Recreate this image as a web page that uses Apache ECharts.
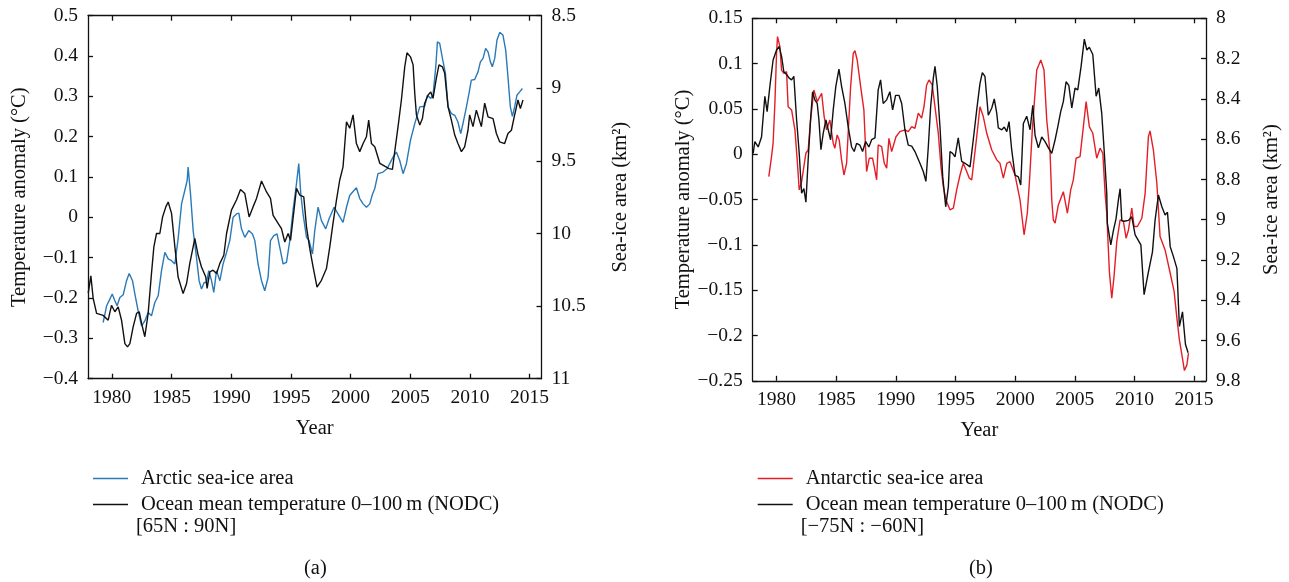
<!DOCTYPE html>
<html>
<head>
<meta charset="utf-8">
<script src="https://cdn.jsdelivr.net/npm/echarts@6/dist/echarts.min.js"></script>
<style>
  html, body { margin: 0; padding: 0; background: #fff; }
  #chart { width: 1289px; height: 582px; }
</style>
</head>
<body>
<div id="chart"></div>
<script>
// tick labels
const yearTicks = [1980, 1985, 1990, 1995, 2000, 2005, 2010, 2015];

// (a) Arctic: ocean temperature anomaly [65N:90N] (left axis, °C)
const arcticTemp = [
  [1978.02,-0.188],[1978.24,-0.145],[1978.43,-0.200],[1978.72,-0.238],[1979.27,-0.243],[1979.69,-0.255],
  [1979.97,-0.218],[1980.25,-0.234],[1980.53,-0.222],[1980.81,-0.255],[1981.09,-0.313],[1981.31,-0.321],
  [1981.51,-0.313],[1981.78,-0.272],[1982.07,-0.238],[1982.29,-0.234],[1982.49,-0.263],[1982.76,-0.296],
  [1983.04,-0.238],[1983.32,-0.139],[1983.52,-0.073],[1983.74,-0.040],[1984.02,-0.040],[1984.25,0.001],
  [1984.52,0.026],[1984.72,0.038],[1985.00,0.010],[1985.28,-0.073],[1985.55,-0.148],[1985.97,-0.189],
  [1986.26,-0.164],[1986.53,-0.114],[1986.81,-0.073],[1986.95,-0.052],[1987.23,-0.094],[1987.51,-0.123],
  [1987.87,-0.148],[1987.98,-0.176],[1988.21,-0.135],[1988.48,-0.131],[1988.77,-0.139],[1989.05,-0.114],
  [1989.38,-0.094],[1989.61,-0.040],[1990.02,0.018],[1990.44,0.043],[1990.78,0.069],[1991.14,0.059],
  [1991.50,0.001],[1991.83,0.026],[1992.12,0.047],[1992.54,0.090],[1992.96,0.063],[1993.29,0.047],
  [1993.51,0.005],[1993.93,-0.015],[1994.21,-0.028],[1994.49,-0.061],[1994.77,-0.040],[1994.97,-0.057],
  [1995.18,-0.003],[1995.47,0.072],[1995.75,0.055],[1996.08,0.051],[1996.31,-0.024],[1996.58,-0.077],
  [1996.86,-0.123],[1997.19,-0.173],[1997.56,-0.156],[1997.98,-0.127],[1998.26,-0.073],[1998.53,-0.015],
  [1998.82,0.043],[1999.09,0.092],[1999.37,0.125],[1999.66,0.237],[1999.93,0.221],[2000.21,0.254],
  [2000.49,0.183],[2000.77,0.163],[2001.05,0.183],[2001.33,0.200],[2001.52,0.241],[2001.75,0.183],
  [2002.03,0.175],[2002.45,0.134],[2002.86,0.127],[2003.22,0.121],[2003.51,0.119],[2003.70,0.163],
  [2003.98,0.225],[2004.26,0.291],[2004.54,0.373],[2004.73,0.408],[2005.02,0.398],[2005.24,0.378],
  [2005.38,0.307],[2005.52,0.254],[2005.80,0.229],[2006.02,0.245],[2006.21,0.283],[2006.49,0.303],
  [2006.72,0.311],[2006.91,0.295],[2007.19,0.345],[2007.41,0.378],[2007.70,0.373],[2007.89,0.357],
  [2008.17,0.274],[2008.45,0.241],[2008.73,0.204],[2009.00,0.183],[2009.29,0.163],[2009.56,0.175],
  [2009.84,0.216],[2009.98,0.254],[2010.26,0.225],[2010.54,0.266],[2010.96,0.225],[2011.24,0.283],
  [2011.52,0.249],[2011.94,0.245],[2012.22,0.208],[2012.50,0.187],[2012.91,0.183],[2013.19,0.208],
  [2013.48,0.216],[2013.75,0.254],[2014.03,0.291],[2014.23,0.270],[2014.45,0.291]
];

// (a) Arctic sea-ice area (right axis, inverted, km²)
const arcticIce = [
  [1979.27,10.613],[1979.56,10.498],[1979.83,10.452],[1980.03,10.417],[1980.25,10.463],[1980.44,10.498],
  [1980.67,10.441],[1980.95,10.422],[1981.23,10.325],[1981.45,10.275],[1981.73,10.325],[1981.93,10.417],
  [1982.20,10.532],[1982.49,10.636],[1982.76,10.602],[1983.04,10.544],[1983.32,10.567],[1983.60,10.475],
  [1983.88,10.429],[1984.16,10.256],[1984.44,10.130],[1984.72,10.175],[1985.00,10.187],[1985.28,10.210],
  [1985.55,10.037],[1985.84,9.796],[1986.11,9.704],[1986.31,9.635],[1986.39,9.543],[1986.59,9.727],
  [1986.81,9.980],[1987.09,10.164],[1987.31,10.325],[1987.51,10.383],[1987.73,10.337],[1987.93,10.337],
  [1988.12,10.256],[1988.35,10.325],[1988.54,10.406],[1988.77,10.256],[1989.05,10.325],[1989.32,10.210],
  [1989.61,10.130],[1989.88,10.049],[1990.16,9.888],[1990.44,9.865],[1990.64,9.860],[1990.86,9.968],
  [1991.14,10.026],[1991.47,9.980],[1991.78,10.003],[1991.98,10.049],[1992.25,10.210],[1992.54,10.325],
  [1992.81,10.394],[1993.09,10.302],[1993.29,10.049],[1993.57,10.015],[1993.84,10.003],[1994.07,10.095],
  [1994.35,10.210],[1994.63,10.199],[1994.91,10.049],[1995.18,9.842],[1995.47,9.657],[1995.66,9.519],
  [1995.83,9.727],[1996.02,9.865],[1996.31,10.026],[1996.53,10.049],[1996.81,10.141],[1997.00,9.980],
  [1997.28,9.819],[1997.56,9.911],[1997.92,9.968],[1998.20,9.899],[1998.62,9.819],[1998.95,9.865],
  [1999.37,9.923],[1999.66,9.819],[1999.93,9.738],[2000.21,9.711],[2000.49,9.685],[2000.77,9.759],
  [2001.05,9.796],[2001.33,9.819],[2001.61,9.796],[2001.83,9.731],[2002.03,9.690],[2002.30,9.588],
  [2002.72,9.577],[2003.06,9.554],[2003.28,9.519],[2003.56,9.474],[2003.84,9.439],[2004.12,9.497],
  [2004.40,9.588],[2004.68,9.519],[2005.02,9.358],[2005.38,9.243],[2005.80,9.128],[2006.21,9.124],
  [2006.44,9.048],[2006.72,9.070],[2006.91,9.048],[2007.14,8.852],[2007.28,8.680],[2007.47,8.691],
  [2007.70,8.794],[2007.95,8.898],[2008.17,9.128],[2008.45,9.174],[2008.73,9.186],[2009.00,9.232],
  [2009.23,9.312],[2009.42,9.243],[2009.71,9.128],[2009.92,9.036],[2010.12,8.944],[2010.40,8.939],
  [2010.68,8.887],[2010.88,8.818],[2011.10,8.794],[2011.32,8.725],[2011.52,8.749],[2011.72,8.818],
  [2011.88,8.852],[2012.08,8.794],[2012.27,8.668],[2012.50,8.615],[2012.77,8.633],[2013.00,8.737],
  [2013.19,8.921],[2013.39,9.128],[2013.56,9.193],[2013.75,9.128],[2013.94,9.048],[2014.17,9.025],
  [2014.40,9.001]
];

// (b) Antarctic: ocean temperature anomaly [-75N:-60N] (left axis, °C)
const antarcticTemp = [
  [1978.04,0.001],[1978.18,0.014],[1978.46,0.008],[1978.74,0.019],[1979.02,0.064],[1979.21,0.047],
  [1979.44,0.075],[1979.71,0.104],[1980.00,0.115],[1980.22,0.119],[1980.42,0.108],[1980.61,0.091],
  [1980.84,0.088],[1981.06,0.084],[1981.26,0.082],[1981.45,0.086],[1981.68,0.038],[1981.90,0.001],
  [1982.10,-0.043],[1982.29,-0.038],[1982.46,-0.053],[1982.65,-0.006],[1982.85,0.038],[1983.02,0.069],
  [1983.21,0.060],[1983.41,0.056],[1983.55,0.038],[1983.72,0.005],[1983.91,0.023],[1984.14,0.038],
  [1984.33,0.027],[1984.53,0.016],[1984.75,0.049],[1984.97,0.075],[1985.23,0.094],[1985.45,0.075],
  [1985.73,0.056],[1986.01,0.030],[1986.29,0.008],[1986.51,0.003],[1986.71,0.012],[1986.99,0.010],
  [1987.21,0.003],[1987.47,0.014],[1987.74,0.008],[1987.97,0.016],[1988.25,0.018],[1988.52,0.071],
  [1988.72,0.082],[1988.94,0.056],[1989.23,0.060],[1989.50,0.069],[1989.73,0.049],[1989.98,0.065],
  [1990.26,0.065],[1990.49,0.056],[1990.76,0.027],[1991.04,0.010],[1991.33,0.009],[1991.60,0.003],
  [1992.02,-0.010],[1992.30,-0.019],[1992.52,-0.030],[1992.72,0.008],[1992.92,0.053],[1993.14,0.084],
  [1993.28,0.097],[1993.47,0.075],[1993.70,0.030],[1993.93,-0.025],[1994.18,-0.058],[1994.40,-0.036],
  [1994.54,0.003],[1994.76,0.001],[1994.96,-0.003],[1995.23,0.018],[1995.52,-0.008],[1995.80,-0.010],
  [1996.22,-0.014],[1996.49,0.016],[1996.78,0.049],[1997.05,0.078],[1997.25,0.090],[1997.47,0.086],
  [1997.75,0.043],[1998.04,0.051],[1998.25,0.061],[1998.46,0.045],[1998.59,0.029],[1998.88,0.027],
  [1999.09,0.030],[1999.30,0.025],[1999.49,0.036],[1999.71,0.005],[1999.99,-0.023],[2000.27,-0.025],
  [2000.47,-0.034],[2000.69,0.034],[2000.97,0.042],[2001.25,0.027],[2001.48,0.054],[2001.67,0.021],
  [2001.95,0.007],[2002.23,0.019],[2002.51,0.014],[2002.79,0.007],[2003.07,0.001],[2003.35,0.016],
  [2003.57,0.030],[2003.82,0.047],[2004.04,0.058],[2004.27,0.080],[2004.50,0.076],[2004.75,0.051],
  [2005.02,0.073],[2005.25,0.071],[2005.53,0.097],[2005.80,0.127],[2006.01,0.115],[2006.22,0.118],
  [2006.51,0.110],[2006.79,0.064],[2007.01,0.073],[2007.26,0.045],[2007.46,0.005],[2007.68,-0.043],
  [2007.73,-0.076],[2008.02,-0.100],[2008.24,-0.084],[2008.46,-0.071],[2008.66,-0.050],[2008.80,-0.038],
  [2008.94,-0.073],[2009.14,-0.074],[2009.50,-0.073],[2009.78,-0.069],[2010.06,-0.089],[2010.54,-0.100],
  [2010.81,-0.155],[2011.17,-0.130],[2011.51,-0.108],[2011.73,-0.073],[2012.01,-0.045],[2012.30,-0.058],
  [2012.57,-0.067],[2012.77,-0.064],[2013.00,-0.102],[2013.27,-0.113],[2013.56,-0.126],[2013.77,-0.190],
  [2014.03,-0.174],[2014.28,-0.210],[2014.50,-0.219]
];

// (b) Antarctic sea-ice area (right axis, inverted, km²)
const antarcticIce = [
  [1979.35,8.786],[1979.58,8.687],[1979.71,8.620],[1979.86,8.422],[1980.00,8.174],[1980.08,8.091],
  [1980.28,8.141],[1980.42,8.257],[1980.61,8.273],[1980.84,8.265],[1980.97,8.439],[1981.26,8.455],
  [1981.54,8.554],[1981.73,8.703],[1981.90,8.852],[1982.10,8.811],[1982.29,8.736],[1982.46,8.670],
  [1982.65,8.654],[1982.85,8.505],[1983.13,8.356],[1983.41,8.414],[1983.78,8.372],[1983.99,8.488],
  [1984.19,8.554],[1984.47,8.505],[1984.75,8.620],[1984.89,8.645],[1985.08,8.579],[1985.25,8.604],
  [1985.45,8.703],[1985.65,8.778],[1985.87,8.720],[1986.21,8.339],[1986.43,8.174],[1986.57,8.161],
  [1986.76,8.207],[1987.05,8.339],[1987.32,8.455],[1987.55,8.761],[1987.77,8.695],[1988.05,8.695],
  [1988.19,8.736],[1988.39,8.802],[1988.52,8.629],[1988.81,8.637],[1989.03,8.720],[1989.23,8.744],
  [1989.42,8.596],[1989.65,8.662],[1989.78,8.662],[1990.01,8.588],[1990.34,8.563],[1990.76,8.554],
  [1991.04,8.563],[1991.33,8.538],[1991.60,8.546],[1991.88,8.471],[1992.16,8.496],[1992.36,8.439],
  [1992.58,8.331],[1992.78,8.306],[1993.05,8.331],[1993.28,8.439],[1993.56,8.571],[1993.78,8.736],
  [1993.98,8.836],[1994.20,8.902],[1994.54,8.951],[1994.82,8.943],[1995.10,8.852],[1995.38,8.778],
  [1995.65,8.720],[1995.94,8.761],[1996.16,8.794],[1996.36,8.802],[1996.78,8.588],[1997.05,8.439],
  [1997.33,8.488],[1997.62,8.571],[1998.04,8.654],[1998.46,8.703],[1998.73,8.720],[1999.01,8.794],
  [1999.30,8.720],[1999.57,8.712],[1999.99,8.778],[2000.24,8.852],[2000.41,8.902],[2000.75,9.075],
  [2001.02,8.968],[2001.21,8.802],[2001.44,8.554],[2001.81,8.257],[2002.15,8.207],[2002.42,8.257],
  [2002.65,8.505],[2002.93,8.670],[2003.07,8.902],[2003.20,9.001],[2003.35,9.017],[2003.62,8.927],
  [2004.04,8.861],[2004.38,8.968],[2004.66,8.852],[2004.88,8.802],[2005.11,8.695],[2005.44,8.687],
  [2005.72,8.538],[2005.95,8.414],[2006.22,8.538],[2006.51,8.571],[2006.84,8.695],[2007.12,8.645],
  [2007.35,8.670],[2007.54,8.868],[2007.68,8.968],[2007.90,9.258],[2008.10,9.390],[2008.29,9.282],
  [2008.52,9.109],[2008.80,9.001],[2009.08,9.009],[2009.30,9.092],[2009.50,9.051],[2009.78,8.943],
  [2009.97,9.034],[2010.25,9.034],[2010.62,8.993],[2010.90,8.868],[2011.17,8.588],[2011.31,8.559],
  [2011.59,8.654],[2011.88,8.819],[2012.15,9.084],[2012.57,9.150],[2013.00,9.266],[2013.33,9.357],
  [2013.56,9.489],[2013.77,9.597],[2013.98,9.671],[2014.19,9.749],[2014.40,9.721],[2014.53,9.663]
];

const FONT = 'Liberation Serif';
const TICK_SIZE = 19.5;
const NAME_SIZE = 20.5;
const OCEAN = 'Ocean mean temperature 0\u2013100\u2009m (NODC)';

function fmt(v) {
  let s = String(Math.round(v * 1000) / 1000);
  return s.replace('-', '\u2212');
}

const axisLine = { show: true, onZero: false, lineStyle: { color: '#111', width: 1.3 } };

function xAx(grid, top) {
  return {
    type: 'value', gridIndex: grid, min: 1978, max: 2016,
    position: top ? 'top' : 'bottom',
    name: top ? '' : 'Year', nameLocation: 'middle', nameGap: 39,
    nameTextStyle: { fontFamily: FONT, fontSize: NAME_SIZE, color: '#111' },
    axisLine: axisLine,
    axisTick: { show: true, inside: true, length: 5, customValues: yearTicks, lineStyle: { color: '#111', width: 1.3 } },
    axisLabel: {
      show: !top, customValues: yearTicks, margin: 9, fontFamily: FONT, fontSize: TICK_SIZE, color: '#111',
      formatter: function (v) { return String(Math.round(v)); }
    },
    splitLine: { show: false }
  };
}

function yAx(grid, right, min, max, interval, inverse, name, gap) {
  return {
    type: 'value', gridIndex: grid, min: min, max: max, interval: interval,
    position: right ? 'right' : 'left', inverse: inverse,
    name: name, nameLocation: 'middle', nameGap: gap, nameRotate: 90,
    nameTextStyle: { fontFamily: FONT, fontSize: NAME_SIZE, color: '#111' },
    axisLine: axisLine,
    axisTick: { show: true, inside: true, length: 5, lineStyle: { color: '#111', width: 1.3 } },
    axisLabel: { margin: 10, fontFamily: FONT, fontSize: TICK_SIZE, color: '#111', formatter: fmt },
    splitLine: { show: false }
  };
}

function line(name, data, xi, yi, color) {
  return {
    name: name, type: 'line', data: data, xAxisIndex: xi, yAxisIndex: yi,
    color: color, showSymbol: false, symbol: 'none',
    lineStyle: { width: 1.4, color: color }, z: color === '#111' ? 3 : 2
  };
}

const legendText = { fontFamily: FONT, fontSize: NAME_SIZE, color: '#111', padding: [0, 0, 0, 8] };

const option = {
  animation: false,
  backgroundColor: '#fff',
  grid: [
    { left: 88, top: 15.7, width: 453.5, height: 363 },
    { left: 752.7, top: 18.3, width: 453.3, height: 362.5 }
  ],
  xAxis: [xAx(0, false), xAx(0, true), xAx(1, false), xAx(1, true)],
  yAxis: [
    yAx(0, false, -0.4, 0.5, 0.1, false, 'Temperature anomaly (\u00b0C)', 58),
    yAx(0, true, 8.5, 11, 0.5, true, 'Sea-ice area (km\u00b2)', 69),
    yAx(1, false, -0.25, 0.15, 0.05, false, 'Temperature anomaly (\u00b0C)', 58),
    yAx(1, true, 8, 9.8, 0.2, true, 'Sea-ice area (km\u00b2)', 55)
  ],
  legend: [
    {
      left: 88, top: 463, orient: 'vertical', itemWidth: 35, itemHeight: 1.6, itemGap: 5,
      icon: 'rect', selectedMode: false, textStyle: legendText,
      data: ['Arctic sea-ice area', OCEAN]
    },
    {
      left: 752.7, top: 463, orient: 'vertical', itemWidth: 35, itemHeight: 1.6, itemGap: 5,
      icon: 'rect', selectedMode: false, textStyle: legendText,
      data: ['Antarctic sea-ice area', OCEAN]
    }
  ],
  graphic: [
    { type: 'text', left: 136, top: 516, style: { text: '[65N : 90N]', font: NAME_SIZE + 'px "' + FONT + '"', fill: '#111' } },
    { type: 'text', left: 800.7, top: 516, style: { text: '[\u221275N : \u221260N]', font: NAME_SIZE + 'px "' + FONT + '"', fill: '#111' } },
    { type: 'text', left: 304, top: 558, style: { text: '(a)', font: NAME_SIZE + 'px "' + FONT + '"', fill: '#111' } },
    { type: 'text', left: 969, top: 558, style: { text: '(b)', font: NAME_SIZE + 'px "' + FONT + '"', fill: '#111' } }
  ],
  series: [
    line('Arctic sea-ice area', arcticIce, 0, 1, '#2a7ab8'),
    line(OCEAN, arcticTemp, 0, 0, '#111'),
    line('Antarctic sea-ice area', antarcticIce, 2, 3, '#e41e26'),
    line(OCEAN, antarcticTemp, 2, 2, '#111')
  ]
};

const chart = echarts.init(document.getElementById('chart'));
chart.setOption(option);
</script>
</body>
</html>
